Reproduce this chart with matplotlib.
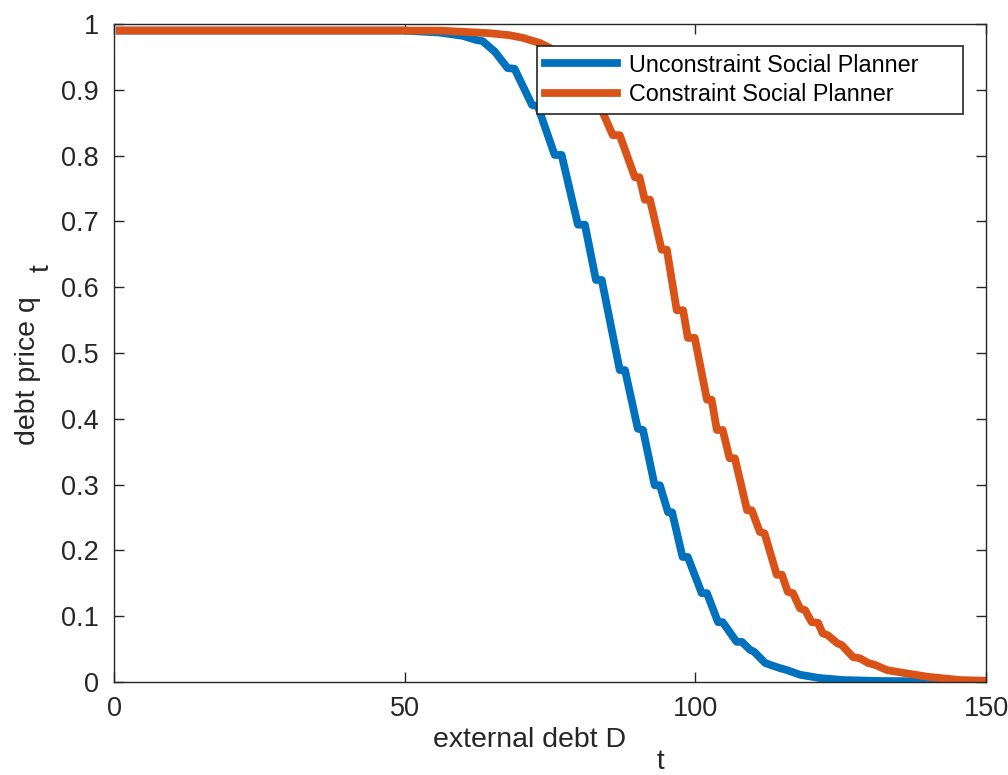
import matplotlib
matplotlib.use("Agg")
import matplotlib.pyplot as plt

plt.rcParams['font.family'] = ['Liberation Sans', 'DejaVu Sans']

# unconstrained social planner: debt price vs external debt
x_unc = [1, 49.8, 56, 60, 62.2, 63.4, 65.5, 67.7, 68.9, 71.9, 72.9, 75.8, 77.0, 79.8, 81.0,
         82.9, 83.9, 87.0, 87.9, 90.1, 91.0, 93.0, 93.9, 95.3, 96.0, 97.8, 98.7,
         101.1, 102.0, 103.9, 104.7, 107.1, 108.0, 109.4, 110.1, 112.0, 112.9,
         114.6, 115.8, 118, 121.4, 125.4, 131.7, 150]
q_unc = [0.99, 0.99, 0.987, 0.982, 0.976, 0.974, 0.958, 0.933, 0.932, 0.877, 0.875, 0.801, 0.801,
         0.695, 0.695, 0.611, 0.611, 0.474, 0.474, 0.385, 0.383, 0.299, 0.299,
         0.258, 0.258, 0.19, 0.19, 0.135, 0.135, 0.091, 0.091, 0.061, 0.061,
         0.049, 0.046, 0.029, 0.026, 0.021, 0.018, 0.011, 0.006, 0.003, 0.0015,
         0.0005]

# constrained social planner
x_con = [1, 56, 64.6, 68, 70.3, 73.3, 75.8, 79.3, 81.9, 84.1, 85.8, 87.0, 89.6,
         90.4, 91.3, 92.2, 94.2, 95.1, 96.8, 97.9, 98.7, 99.9, 102.0, 102.8,
         103.7, 104.7, 105.9, 106.8, 108.9, 109.7, 111.1, 111.9, 114.0, 114.9,
         115.9, 116.8, 118.0, 118.9, 120.0, 121.1, 121.9, 122.8, 124.4, 125.2,
         127.1, 128.3, 129.7, 130.9, 133, 135.7, 139.9, 145.5, 149.5]
q_con = [0.99, 0.99, 0.986, 0.983, 0.979, 0.971, 0.96, 0.93, 0.90, 0.865, 0.831,
         0.831, 0.767, 0.767, 0.733, 0.733, 0.657, 0.657, 0.565, 0.565, 0.523,
         0.523, 0.429, 0.429, 0.383, 0.383, 0.340, 0.340, 0.261, 0.261, 0.228,
         0.226, 0.163, 0.163, 0.137, 0.135, 0.112, 0.109, 0.091, 0.090, 0.074,
         0.071, 0.059, 0.056, 0.038, 0.036, 0.029, 0.026, 0.018, 0.014, 0.008,
         0.003, 0.002]

labels = ["Unconstraint Social Planner", "Constraint Social Planner"]
fname = "out.png"

fig = plt.figure(figsize=(10.08, 7.75), dpi=100)
ax = fig.add_axes([114 / 1008, 93 / 775, 872 / 1008, 658 / 775])

ax.plot(x_unc, q_unc, color="#0072BD", lw=5.6, label=labels[0], solid_joinstyle="round")
ax.plot(x_con, q_con, color="#D95319", lw=5.6, label=labels[1], solid_joinstyle="round")

ax.set_xlim(0, 150)
ax.set_ylim(0, 1)
ax.set_xticks([0, 50, 100, 150])
ax.set_yticks([i / 10 for i in range(11)])
ax.set_yticklabels(["0"] + ["0.%d" % i for i in range(1, 10)] + ["1"])
ax.tick_params(direction="in", length=7, width=1, top=True, right=True,
               labelsize=19.5, colors="#262626", pad=10)
ax.tick_params(axis="y", pad=11)
for s in ax.spines.values():
    s.set_color("#262626")
    s.set_linewidth(1)

leg = ax.legend(loc="upper left", bbox_to_anchor=(0.485, 0.865, 0.489, 0.102),
                mode="expand", borderaxespad=0, fontsize=16.8, frameon=True,
                fancybox=False, framealpha=1, handlelength=3.1,
                handletextpad=0.5, labelspacing=0.28, borderpad=0.34)
leg.get_frame().set_edgecolor("#262626")
leg.get_frame().set_linewidth(1.2)

fig.text(530 / 1008, 1 - 740 / 775, "external debt D", fontsize=20.5,
         ha="center", va="center", color="#262626")
fig.text(660 / 1008, 1 - 769 / 775, "t", fontsize=20,
         ha="center", va="baseline", color="#262626")
fig.text(28 / 1008, 1 - 371 / 775, "debt price q", fontsize=20.5, rotation=90,
         ha="center", va="center", color="#262626")
fig.text(42 / 1008, 1 - 268 / 775, "t", fontsize=20.5, rotation=90,
         ha="center", va="center", color="#262626")

plt.savefig(fname)
